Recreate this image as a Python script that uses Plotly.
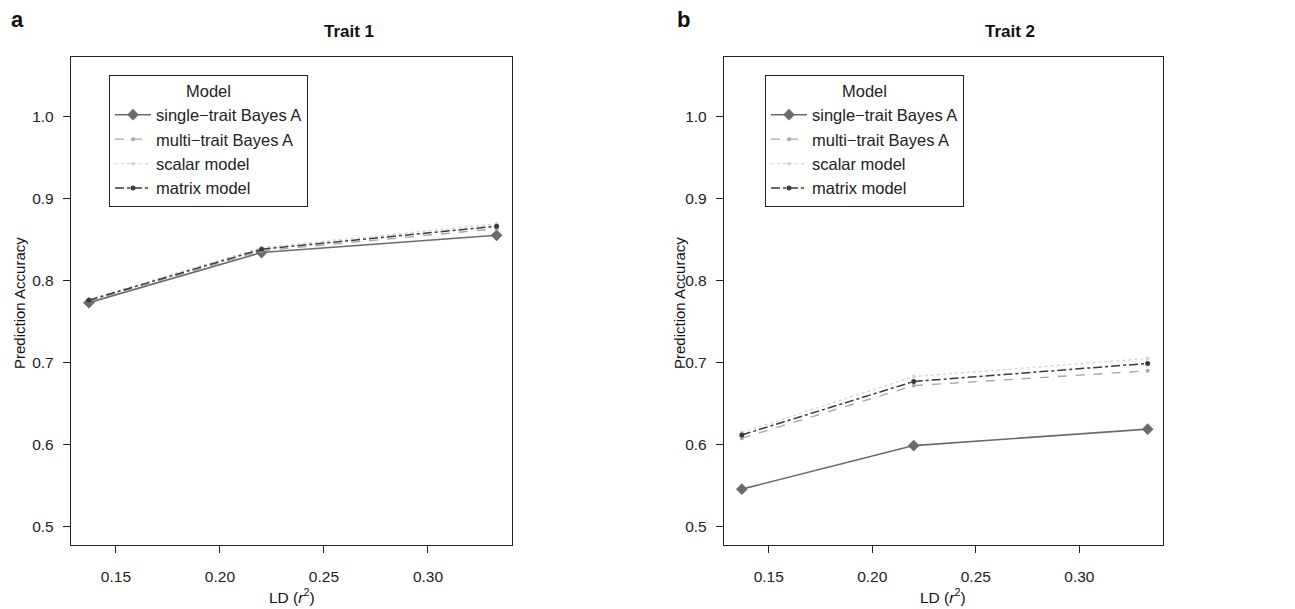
import plotly.graph_objects as go

# ---- data ----
ld = [0.137, 0.220, 0.333]
models = ["single\u2212trait Bayes A", "multi\u2212trait Bayes A", "scalar model", "matrix model"]
trait1_single = [0.773, 0.834, 0.855]
trait1_multi = [0.775, 0.836, 0.863]
trait1_scalar = [0.777, 0.840, 0.869]
trait1_matrix = [0.776, 0.838, 0.866]
trait2_single = [0.546, 0.599, 0.619]
trait2_multi = [0.608, 0.672, 0.690]
trait2_scalar = [0.615, 0.683, 0.705]
trait2_matrix = [0.612, 0.677, 0.699]
x_ticks = [0.15, 0.20, 0.25, 0.30]
x_ticklabels = ["0.15", "0.20", "0.25", "0.30"]
y_ticks = [0.5, 0.6, 0.7, 0.8, 0.9, 1.0]
y_ticklabels = ["0.5", "0.6", "0.7", "0.8", "0.9", "1.0"]

styles = [
    dict(color="#6b6b6b", dash="solid", symbol="diamond", size=9, width=1.6),
    dict(color="#a8a8a8", dash="dash", symbol="circle", size=4, width=1.4),
    dict(color="#d6d6d6", dash="dot", symbol="circle", size=4, width=1.4),
    dict(color="#3a3a3a", dash="dashdot", symbol="circle", size=5, width=1.5),
]

FONT = "Liberation Sans, Arial, Helvetica, sans-serif"
W, H = 1295, 609
ML, MR, MT, MB = 71, 132, 57, 64
PW = W - ML - MR
PH = H - MT - MB

fig = go.Figure()
panels = [
    ("x", "y", "legend", [trait1_single, trait1_multi, trait1_scalar, trait1_matrix]),
    ("x2", "y2", "legend2", [trait2_single, trait2_multi, trait2_scalar, trait2_matrix]),
]
for xa, ya, lg, series in panels:
    for name, vals, st in zip(models, series, styles):
        fig.add_trace(go.Scatter(
            x=ld, y=vals, name=name, mode="lines+markers",
            xaxis=xa, yaxis=ya, legend=lg,
            line=dict(color=st["color"], dash=st["dash"], width=st["width"]),
            marker=dict(symbol=st["symbol"], size=st["size"], color=st["color"]),
        ))

def px_x(p):
    return (p - ML) / PW

axis_common = dict(
    showgrid=False, zeroline=False, showline=True, linecolor="#222222", linewidth=1.3,
    mirror=True, ticks="outside", ticklen=7, tickwidth=1.2, tickcolor="#222222",
    tickfont=dict(family=FONT, size=15.5, color="#222222"),
)

legend_common = dict(
    xanchor="left", yanchor="top",
    bordercolor="#222222", borderwidth=1, bgcolor="white",
    font=dict(family=FONT, size=16.5, color="#222222"),
    title=dict(text="Model", side="top center", font=dict(family=FONT, size=16.5)),
    tracegroupgap=0, itemwidth=36,
)

xd1 = [0, px_x(512)]
xd2 = [px_x(724), 1]
fig.update_layout(
    width=W, height=H, margin=dict(l=ML, r=MR, t=MT, b=MB),
    plot_bgcolor="white", paper_bgcolor="white",
    font=dict(family=FONT, size=14, color="#222222"),
    xaxis=dict(domain=xd1, range=[0.1284, 0.3404], tickvals=x_ticks, ticktext=x_ticklabels,
               ticklabelstandoff=10, anchor="y", **axis_common),
    yaxis=dict(domain=[0, 1], range=[0.478, 1.072], tickvals=y_ticks, ticktext=y_ticklabels,
               ticklabelstandoff=6, anchor="x", **axis_common),
    xaxis2=dict(domain=xd2, range=[0.1284, 0.3404], tickvals=x_ticks, ticktext=x_ticklabels,
                ticklabelstandoff=10, anchor="y2", **axis_common),
    yaxis2=dict(domain=[0, 1], range=[0.478, 1.072], tickvals=y_ticks, ticktext=y_ticklabels,
                ticklabelstandoff=6, anchor="x2", **axis_common),
    legend=dict(x=px_x(109), y=(H - MB - 75) / PH, **legend_common),
    legend2=dict(x=px_x(765), y=(H - MB - 75) / PH, **legend_common),
    showlegend=True,
)

def ann(text, xp, yp, size, bold=False, angle=0):
    fig.add_annotation(
        text=f"<b>{text}</b>" if bold else text,
        x=px_x(xp), y=(H - MB - yp) / PH, xref="paper", yref="paper",
        showarrow=False, textangle=angle, xanchor="center", yanchor="middle",
        font=dict(family=FONT, size=size, color="#111111"),
    )

ann("a", 17, 19, 22, bold=True)
ann("b", 683, 19, 22, bold=True)
ann("Trait 1", 349, 32, 17, bold=True)
ann("Trait 2", 1010, 32, 17, bold=True)
ann("LD (<i>r</i><sup>2</sup>)", 292, 596, 15.5)
ann("LD (<i>r</i><sup>2</sup>)", 943, 596, 15.5)
ann("Prediction Accuracy", 19, 303, 15, angle=-90)
ann("Prediction Accuracy", 679, 303, 15, angle=-90)

fig.write_html("out.html", config={"displayModeBar": False},
               post_script="document.body.style.margin='0';document.body.style.overflow='hidden';")
